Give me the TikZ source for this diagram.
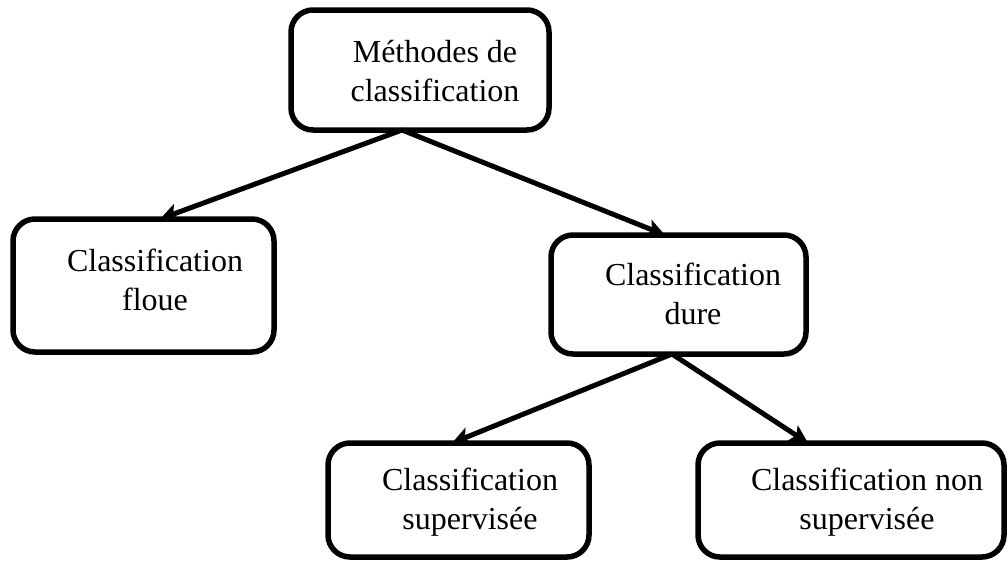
\documentclass[tikz,border=0pt]{standalone}
\usepackage{fontspec}
\setmainfont{Liberation Serif}
\usetikzlibrary{arrows.meta}
\tikzset{
  box/.style={draw=black, line width=5.5pt, rounded corners=22pt, inner sep=0pt, outer sep=0pt, fill=white},
  txt/.style={align=center, inner sep=0pt, font=\fontsize{32}{39}\selectfont},
  conn/.style={line width=5pt, -{Stealth[length=18pt,width=18pt,inset=4pt]}},
}
\begin{document}
\begin{tikzpicture}[x=1pt,y=-1pt]
\useasboundingbox[fill=white] (0,0) rectangle (1008,563);
% boxes
\node[box, minimum width=258pt, minimum height=120pt] (top) at (420,70) {};
\node[box, minimum width=261pt, minimum height=133pt] (floue) at (143.5,285.5) {};
\node[box, minimum width=255pt, minimum height=119pt] (dure) at (678.5,294.5) {};
\node[box, minimum width=261pt, minimum height=114pt] (sup) at (458.5,500) {};
\node[box, minimum width=306pt, minimum height=114pt] (nonsup) at (851,500) {};
% texts
\node[txt] (topt) at (435,71) {Méthodes de\\classification};
\node[txt] (flouet) at (155,280) {Classification\\floue};
\node[txt] (duret) at (693,294) {Classification\\dure};
\node[txt] (supt) at (470,502) {Classification\\supervisée};
\node[txt] (nonsupt) at (867,502) {Classification non\\supervisée};
% connectors
\draw[conn] ([xshift=-18pt]top.south) -- ([xshift=16.5pt]floue.north);
\draw[conn] ([xshift=-18pt]top.south) -- ([xshift=-13.5pt]dure.north);
\draw[conn] ([xshift=-6.5pt]dure.south) -- ([xshift=-6.5pt]sup.north);
\draw[conn] ([xshift=-6.5pt]dure.south) -- ([xshift=-43pt]nonsup.north);
\end{tikzpicture}
\end{document}
